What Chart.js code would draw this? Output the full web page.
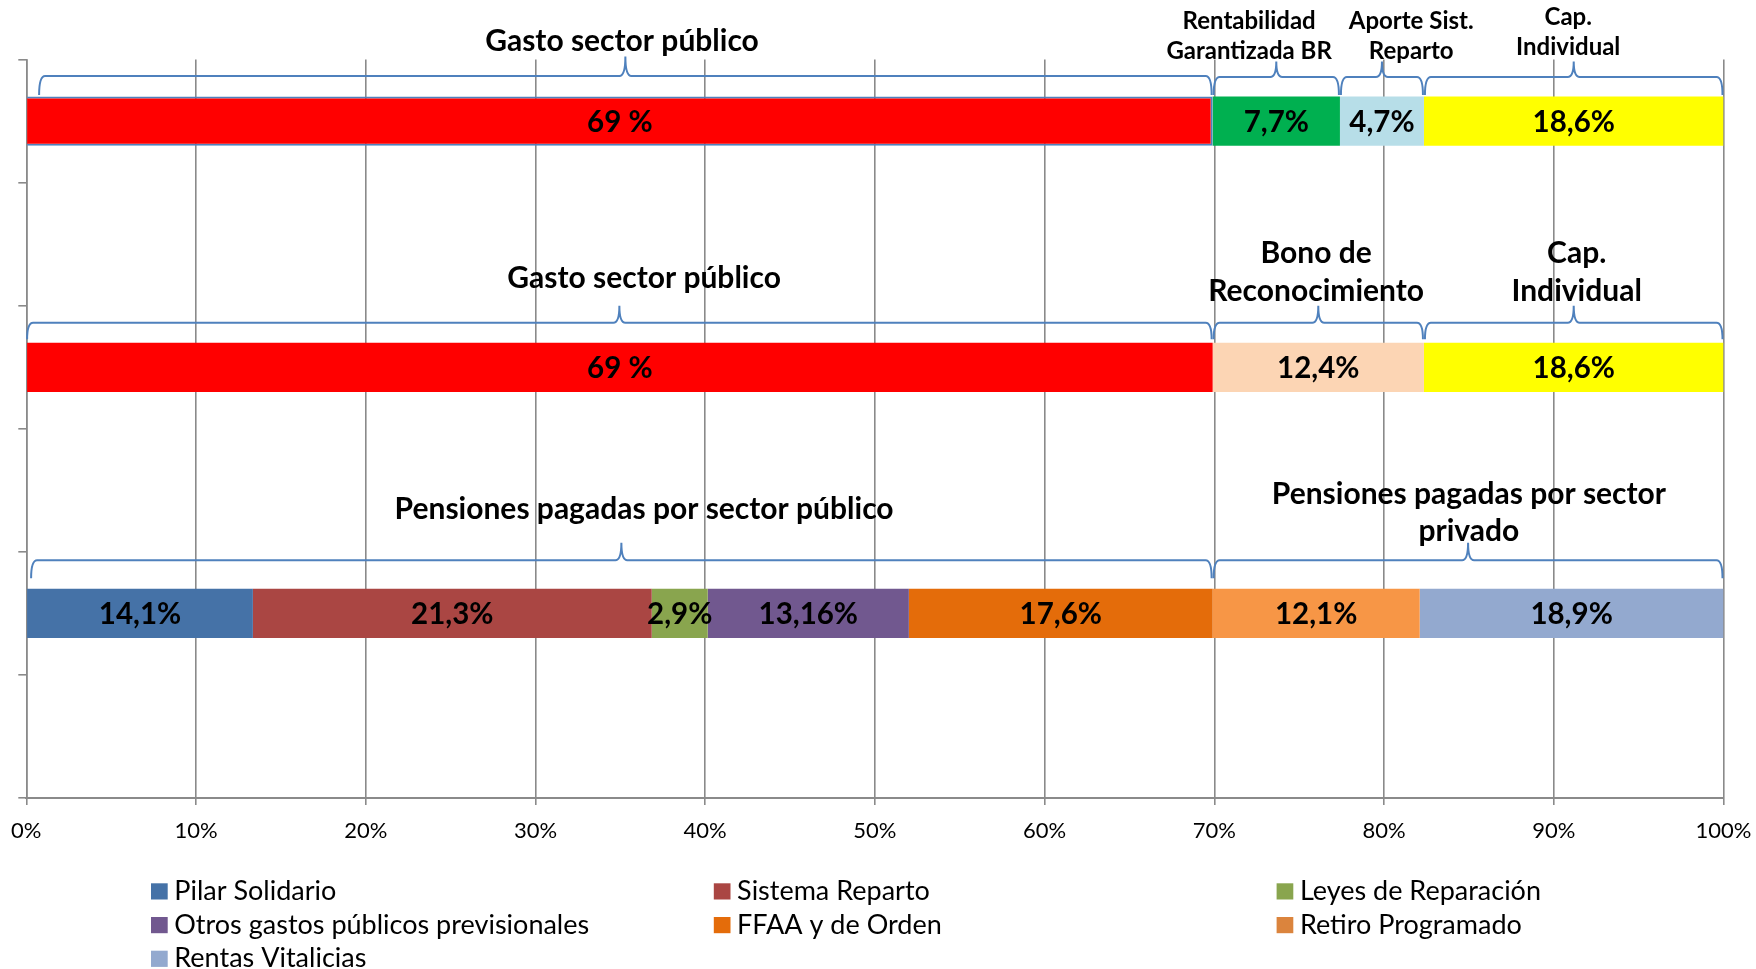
<!DOCTYPE html>
<html>
<head>
<meta charset="utf-8">
<script src="https://cdn.jsdelivr.net/npm/chart.js@4.4.1/dist/chart.umd.min.js"></script>
<style>
  html, body { margin: 0; padding: 0; background: #fff; }
</style>
</head>
<body>
<canvas id="myChart" width="1756" height="969"></canvas>
<script>
// six rows on the category axis; only rows 0, 2 and 4 carry a bar
const categories = ['', '', '', '', '', ''];

const seriesNames = ['Pilar Solidario', 'Sistema Reparto', 'Leyes de Reparación',
  'Otros gastos públicos previsionales', 'FFAA y de Orden', 'Retiro Programado', 'Rentas Vitalicias'];

// segment widths (% of total)
const pilarSolidario   = [69.9, null, 69.9, null, 13.35, null];
const sistemaReparto   = [7.5, null, 12.45, null, 23.5, null];
const leyesReparacion  = [4.95, null, 17.65, null, 3.3, null];
const otrosGastos      = [17.65, null, null, null, 11.85, null];
const ffaaOrden        = [null, null, null, null, 17.9, null];
const retiroProgramado = [null, null, null, null, 12.2, null];
const rentasVitalicias = [null, null, null, null, 17.9, null];

// text written on each segment in the original
const pilarLabels   = ['69 %', '', '69 %', '', '14,1%', ''];
const sistemaLabels = ['7,7%', '', '12,4%', '', '21,3%', ''];
const leyesLabels   = ['4,7%', '', '18,6%', '', '2,9%', ''];
const otrosLabels   = ['18,6%', '', '', '', '13,16%', ''];
const ffaaLabels    = ['', '', '', '', '17,6%', ''];
const retiroLabels  = ['', '', '', '', '12,1%', ''];
const rentasLabels  = ['', '', '', '', '18,9%', ''];

const xTickLabels = ['0%', '10%', '20%', '30%', '40%', '50%', '60%', '70%', '80%', '90%', '100%'];

// colours
const legendColors = ['#4572A7', '#AA4643', '#89A54E', '#71588F', '#E46C0A', '#DB843D', '#93A9CF'];
const rowColors = {
  0: ['#FF0000', '#00B050', '#B7DEE8', '#FFFF00'],
  2: ['#FF0000', '#FCD5B4', '#FFFF00'],
  4: ['#4572A7', '#AA4643', '#89A54E', '#71588F', '#E46C0A', '#F79646', '#93A9CF']
};

// braces over the bars: row, first and last series covered
const braces = [
  { row: 0, first: 0, last: 0, inset: 12, line: 20.5, peak: 40, hook: 1.5 },
  { row: 0, first: 1, last: 1, inset: 1, line: 19.5, peak: 35, hook: 1.5 },
  { row: 0, first: 2, last: 2, inset: 1, line: 19.5, peak: 35, hook: 1.5 },
  { row: 0, first: 3, last: 3, inset: 1, line: 19.5, peak: 35, hook: 1.5 },
  { row: 2, first: 0, last: 0, inset: 0, line: 20, peak: 37, hook: 3.5 },
  { row: 2, first: 1, last: 1, inset: 1, line: 20, peak: 37, hook: 3.5 },
  { row: 2, first: 2, last: 2, inset: 1, line: 20, peak: 37, hook: 3.5 },
  { row: 4, first: 0, last: 4, inset: 4, line: 28.5, peak: 46, hook: 10.5 },
  { row: 4, first: 5, last: 6, inset: 1, line: 28.5, peak: 46, hook: 10.5 }
];

// titles of the braces: centre (in % of the axis), baselines above the bar top
const braceTitles = [
  { row: 0, at: 35.1, lines: ['Gasto sector público'], size: 30, base: [46] },
  { row: 0, at: 72.05, lines: ['Rentabilidad', 'Garantizada BR'], size: 24, base: [67.4, 37.4] },
  { row: 0, at: 81.6, lines: ['Aporte Sist.', 'Reparto'], size: 24, base: [67.4, 37.4] },
  { row: 0, at: 90.85, lines: ['Cap.', 'Individual'], size: 24, base: [71.7, 41.7] },
  { row: 2, at: 36.4, lines: ['Gasto sector público'], size: 30, base: [55.1] },
  { row: 2, at: 76.0, lines: ['Bono de', 'Reconocimiento'], size: 30, base: [80.1, 41.7] },
  { row: 2, at: 91.35, lines: ['Cap.', 'Individual'], size: 30, base: [80.1, 41.7] },
  { row: 4, at: 36.4, lines: ['Pensiones pagadas por sector público'], size: 30, base: [70] },
  { row: 4, at: 85.0, lines: ['Pensiones pagadas por sector', 'privado'], size: 30, base: [85, 48.3] }
];

const FONT = 'Lato, "Open Sans", sans-serif';

const seriesValues = [pilarSolidario, sistemaReparto, leyesReparacion, otrosGastos, ffaaOrden, retiroProgramado, rentasVitalicias];
const seriesLabels = [pilarLabels, sistemaLabels, leyesLabels, otrosLabels, ffaaLabels, retiroLabels, rentasLabels];

const datasets = seriesNames.map((name, i) => ({
  label: name,
  data: seriesValues[i],
  valueLabels: seriesLabels[i],
  backgroundColor: categories.map((_, r) => rowColors[r] ? rowColors[r][i] : legendColors[i]),
  borderColor: '#4F81BD',
  borderWidth: ctx => (ctx.datasetIndex === 0 && ctx.dataIndex === 0) ? 2 : 0,
  barPercentage: 0.4,
  categoryPercentage: 1
}));

// text on the segments
const barText = {
  id: 'barText',
  afterDatasetsDraw(chart) {
    const ctx = chart.ctx;
    ctx.save();
    ctx.font = 'bold 29.5px ' + FONT;
    ctx.fillStyle = '#000';
    ctx.textAlign = 'center';
    ctx.textBaseline = 'alphabetic';
    chart.data.datasets.forEach((ds, i) => {
      chart.getDatasetMeta(i).data.forEach((bar, j) => {
        if (ds.data[j] == null || !ds.valueLabels[j]) return;
        const p = bar.getProps(['x', 'y', 'base'], true);
        ctx.fillText(ds.valueLabels[j], (p.x + p.base) / 2, p.y + 11);
      });
    });
    ctx.restore();
  }
};

function barTop(chart, row) {
  const bar = chart.getDatasetMeta(0).data[row];
  const p = bar.getProps(['y', 'height'], true);
  return p.y - p.height / 2;
}

// curly braces and their titles
const braceNotes = {
  id: 'braceNotes',
  afterDraw(chart) {
    const ctx = chart.ctx;
    const xs = chart.scales.x;
    ctx.save();
    ctx.strokeStyle = '#4F81BD';
    ctx.lineWidth = 2;
    braces.forEach(b => {
      const top = barTop(chart, b.row);
      const x0 = chart.getDatasetMeta(b.first).data[b.row].getProps(['base'], true).base + b.inset;
      const x1 = chart.getDatasetMeta(b.last).data[b.row].getProps(['x'], true).x - 1;
      const yLine = top - b.line, yPeak = top - b.peak, yHook = top - b.hook;
      const xm = (x0 + x1) / 2, r = 6;
      ctx.beginPath();
      ctx.moveTo(x0, yHook);
      ctx.quadraticCurveTo(x0, yLine, x0 + r, yLine);
      ctx.lineTo(xm - r, yLine);
      ctx.quadraticCurveTo(xm, yLine, xm, yPeak);
      ctx.quadraticCurveTo(xm, yLine, xm + r, yLine);
      ctx.lineTo(x1 - r, yLine);
      ctx.quadraticCurveTo(x1, yLine, x1, yHook);
      ctx.stroke();
    });

    ctx.fillStyle = '#000';
    ctx.textAlign = 'center';
    ctx.textBaseline = 'alphabetic';
    braceTitles.forEach(t => {
      const top = barTop(chart, t.row);
      ctx.font = 'bold ' + t.size + 'px ' + FONT;
      t.lines.forEach((line, k) => {
        ctx.fillText(line, xs.getPixelForValue(t.at), top - t.base[k]);
      });
    });
    ctx.restore();
  }
};

// legend laid out in three columns like the original
const legendGrid = {
  id: 'legendGrid',
  afterDraw(chart) {
    const ctx = chart.ctx;
    ctx.save();
    ctx.font = '27px ' + FONT;
    ctx.textAlign = 'left';
    ctx.textBaseline = 'alphabetic';
    chart.data.datasets.forEach((ds, i) => {
      const x = 151 + (i % 3) * 562.8;
      const y = 900 + Math.floor(i / 3) * 33.7;
      ctx.fillStyle = legendColors[i];
      ctx.fillRect(x, y - 16.7, 16.7, 16.2);
      ctx.fillStyle = '#000';
      ctx.fillText(ds.label, x + 23.3, y);
    });
    ctx.restore();
  }
};

new Chart(document.getElementById('myChart'), {
  type: 'bar',
  data: { labels: categories, datasets: datasets },
  options: {
    indexAxis: 'y',
    responsive: false,
    animation: false,
    layout: { padding: { top: 59.6, left: 18.3, right: 32.5, bottom: 111.5 } },
    plugins: {
      legend: { display: false },
      tooltip: { enabled: false }
    },
    scales: {
      x: {
        stacked: true,
        min: 0,
        max: 100,
        afterFit: (scale) => { scale.paddingLeft = 0; scale.paddingRight = 0; },
        ticks: {
          stepSize: 10,
          color: '#000',
          padding: 13,
          font: { family: FONT, size: 22 },
          callback: (v) => xTickLabels[Math.round(v / 10)]
        },
        grid: { color: '#8A8A8A', lineWidth: 1.6, tickLength: 7 },
        border: { color: '#8A8A8A', width: 2 }
      },
      y: {
        stacked: true,
        offset: true,
        ticks: { display: false },
        grid: { offset: true, drawOnChartArea: false, color: '#8A8A8A', lineWidth: 1.6, tickLength: 8 },
        border: { color: '#8A8A8A', width: 1.6 }
      }
    }
  },
  plugins: [barText, braceNotes, legendGrid]
});
</script>
</body>
</html>
